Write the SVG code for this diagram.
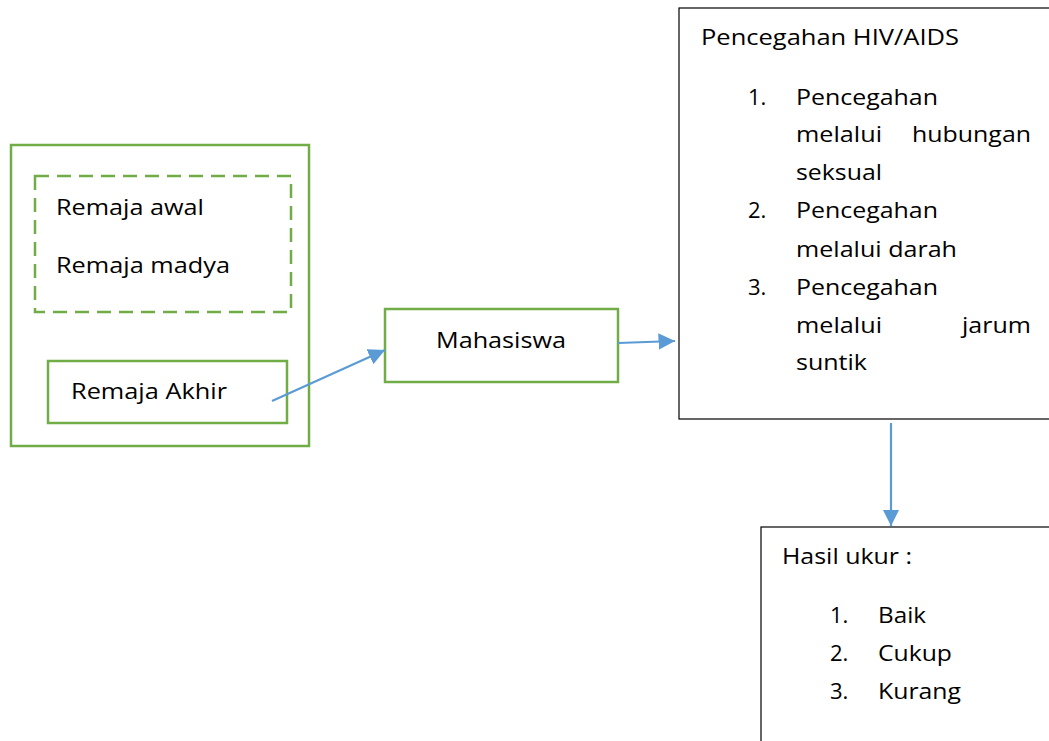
<svg xmlns="http://www.w3.org/2000/svg" width="1049" height="741" viewBox="0 0 1049 741">
<defs>
<style>
.g{fill:#fff;stroke:#70AD47;stroke-width:2.5}
.gd{fill:none;stroke:#70AD47;stroke-width:2.5;stroke-dasharray:14 8}
.k{fill:#fff;stroke:#000;stroke-width:1.2}
.t{font-family:"Open Sans","Noto Sans",sans-serif;font-size:22px;fill:#000}
.c{stroke:#5B9BD5;stroke-width:2.2;fill:none;marker-end:url(#ah2)}
</style>
<marker id="ah2" viewBox="0 0 10 10" refX="10" refY="5" markerWidth="7.5" markerHeight="7.5" orient="auto">
<path d="M0,0 L10,5 L0,10 z" fill="#5B9BD5"/>
</marker>
</defs>
<rect width="1049" height="741" fill="#fff"/>
<g id="remaja">
<rect class="g" x="11" y="145" width="298" height="301"/>
<rect class="gd" x="35" y="176" width="256" height="136"/>
<text class="t" x="56" y="215" textLength="148" lengthAdjust="spacingAndGlyphs">Remaja awal</text>
<text class="t" x="56" y="273" textLength="174" lengthAdjust="spacingAndGlyphs">Remaja madya</text>
</g>
<g id="remaja-akhir">
<rect class="g" x="48" y="361" width="239" height="62"/>
<text class="t" x="71" y="399" textLength="156" lengthAdjust="spacingAndGlyphs">Remaja Akhir</text>
</g>
<g id="mahasiswa">
<rect class="g" x="385" y="309" width="233" height="73"/>
<text class="t" x="436" y="348" textLength="130" lengthAdjust="spacingAndGlyphs">Mahasiswa</text>
</g>
<g id="pencegahan">
<rect class="k" x="679" y="8" width="380" height="411"/>
<text class="t" x="701" y="45" textLength="258" lengthAdjust="spacingAndGlyphs">Pencegahan HIV/AIDS</text>
<text class="t" x="748" y="105">1.</text>
<text class="t" x="796" y="105" textLength="142" lengthAdjust="spacingAndGlyphs">Pencegahan</text>
<text class="t" x="796" y="142" textLength="86" lengthAdjust="spacingAndGlyphs">melalui</text>
<text class="t" x="1031" y="142" text-anchor="end" textLength="119" lengthAdjust="spacingAndGlyphs">hubungan</text>
<text class="t" x="796" y="180" textLength="86" lengthAdjust="spacingAndGlyphs">seksual</text>
<text class="t" x="748" y="218">2.</text>
<text class="t" x="796" y="218" textLength="142" lengthAdjust="spacingAndGlyphs">Pencegahan</text>
<text class="t" x="796" y="257" textLength="161" lengthAdjust="spacingAndGlyphs">melalui darah</text>
<text class="t" x="748" y="295">3.</text>
<text class="t" x="796" y="295" textLength="142" lengthAdjust="spacingAndGlyphs">Pencegahan</text>
<text class="t" x="796" y="333" textLength="86" lengthAdjust="spacingAndGlyphs">melalui</text>
<text class="t" x="1031" y="333" text-anchor="end" textLength="69" lengthAdjust="spacingAndGlyphs">jarum</text>
<text class="t" x="796" y="370" textLength="71" lengthAdjust="spacingAndGlyphs">suntik</text>
</g>
<g id="hasil">
<rect class="k" x="761" y="527" width="300" height="230"/>
<text class="t" x="782" y="564" textLength="130" lengthAdjust="spacingAndGlyphs">Hasil ukur :</text>
<text class="t" x="830" y="623">1.</text>
<text class="t" x="878" y="623" textLength="48" lengthAdjust="spacingAndGlyphs">Baik</text>
<text class="t" x="830" y="661">2.</text>
<text class="t" x="878" y="661" textLength="74" lengthAdjust="spacingAndGlyphs">Cukup</text>
<text class="t" x="830" y="699">3.</text>
<text class="t" x="878" y="699" textLength="83" lengthAdjust="spacingAndGlyphs">Kurang</text>
</g>
<g id="connectors">
<path class="c" d="M272,401 L385,350"/>
<path class="c" d="M618,343 L675,341"/>
<path class="c" d="M891,423 L891,526"/>
</g>
</svg>
